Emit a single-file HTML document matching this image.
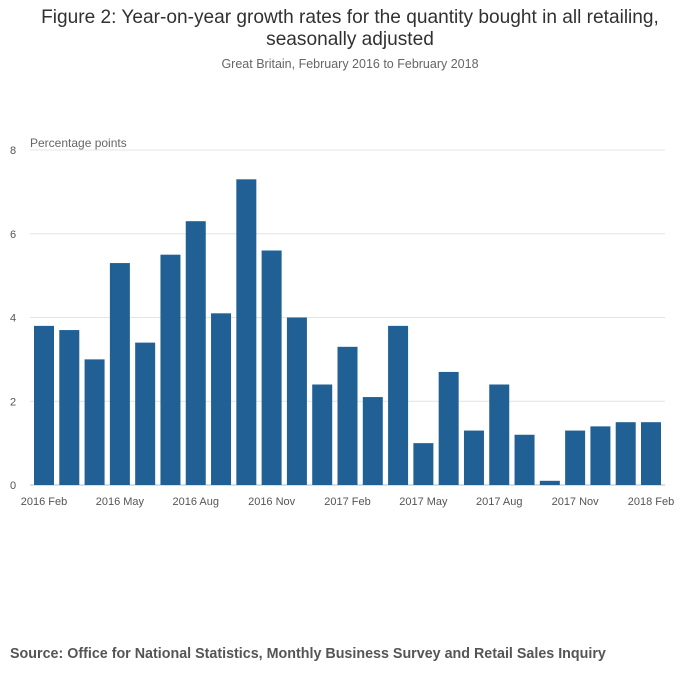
<!DOCTYPE html>
<html><head><meta charset="utf-8">
<style>
html,body{margin:0;padding:0;background:#fff;}
body{width:700px;height:682px;position:relative;font-family:"Liberation Sans",sans-serif;overflow:hidden;}
.title{position:absolute;top:7px;left:0;width:700px;text-align:center;font-size:19.1px;line-height:22px;color:#323132;}
.sub{position:absolute;top:57px;left:0;width:700px;text-align:center;font-size:12.5px;color:#666;}
.src{position:absolute;top:646px;left:10px;font-size:14.3px;font-weight:bold;color:#555;}
svg{position:absolute;left:0;top:0;}
</style></head><body>
<div class="title">Figure 2: Year-on-year growth rates for the quantity bought in all retailing,<br>seasonally adjusted</div>
<div class="sub">Great Britain, February 2016 to February 2018</div>
<svg id="chart" width="700" height="682"></svg>
<div class="src">Source: Office for National Statistics, Monthly Business Survey and Retail Sales Inquiry</div>
<script>
const values = [3.8,3.7,3.0,5.3,3.4,5.5,6.3,4.1,7.3,5.6,4.0,2.4,3.3,2.1,3.8,1.0,2.7,1.3,2.4,1.2,0.1,1.3,1.4,1.5,1.5];
const yTicks = [0,2,4,6,8];
const xTickIndex = [0,3,6,9,12,15,18,21,24];
const xTickLabels = ["2016 Feb","2016 May","2016 Aug","2016 Nov","2017 Feb","2017 May","2017 Aug","2017 Nov","2018 Feb"];

const svg = document.getElementById('chart');
const NS = 'http://www.w3.org/2000/svg';
const y0 = 485, yTop = 150, yMax = 8;
const y = v => y0 - (v / yMax) * (y0 - yTop);
const firstC = 44, step = (651 - 44) / 24, bw = 20;
const x = i => firstC + i * step;
function mk(tag, attrs){const e=document.createElementNS(NS,tag);for(const k in attrs)e.setAttribute(k,attrs[k]);svg.appendChild(e);return e;}

yTicks.forEach(t=>{
  const g = mk('line',{x1:30,x2:665,y1:y(t),y2:y(t),stroke:t===0?'#bbb':'#e4e4e4','stroke-width':1});
  
  
  const l = mk('text',{x:13,y:y(t)+4,'font-size':11,fill:'#555','text-anchor':'middle','font-family':'Liberation Sans, sans-serif'});
  l.textContent = t;
  
  
});
const yt = mk('text',{x:30,y:147,'font-size':12,fill:'#666','font-family':'Liberation Sans, sans-serif'});
yt.textContent='Percentage points';



values.forEach((v,i)=>{
  const r = mk('rect',{x:x(i)-bw/2,y:y(v),width:bw,height:y0-y(v),fill:'#206095'});
  
  
});
xTickIndex.forEach((idx,k)=>{
  const t = mk('text',{x:x(idx),y:505,'font-size':11,fill:'#555','text-anchor':'middle','font-family':'Liberation Sans, sans-serif'});
  t.textContent = xTickLabels[k];
  
  
});
</script>
</body></html>
